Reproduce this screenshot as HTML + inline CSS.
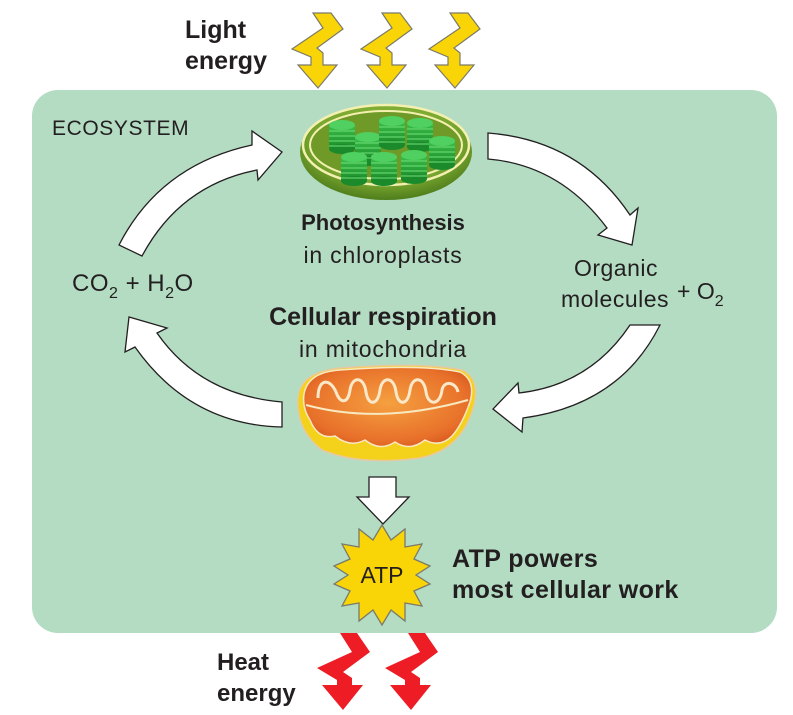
<!DOCTYPE html>
<html><head><meta charset="utf-8"><style>
html,body{margin:0;padding:0;background:#fff;}
body{width:793px;height:715px;overflow:hidden;}
svg{display:block;}
text{font-family:"Liberation Sans",sans-serif;fill:#231f20;}
</style></head><body>
<svg width="793" height="715" viewBox="0 0 793 715" xmlns="http://www.w3.org/2000/svg">
<defs>
<radialGradient id="chl" cx="50%" cy="40%" r="60%"><stop offset="0" stop-color="#9dc23a"/><stop offset="0.7" stop-color="#7aa830"/><stop offset="1" stop-color="#4f7d1c"/></radialGradient>
<linearGradient id="stk" x1="0" x2="0" y1="0" y2="1"><stop offset="0" stop-color="#3cc04a"/><stop offset="1" stop-color="#1b8a2a"/></linearGradient>
<radialGradient id="mito" cx="50%" cy="45%" r="60%"><stop offset="0" stop-color="#f5a040"/><stop offset="0.8" stop-color="#e8702a"/><stop offset="1" stop-color="#d85a20"/></radialGradient>
<g id="stack"><rect x="-13" y="-15" width="26" height="24" fill="url(#stk)"/><ellipse cx="0" cy="9" rx="13" ry="5" fill="#1b8a2a"/><ellipse cx="0" cy="-15" rx="13" ry="5" fill="#4fd060"/><path d="M-13,-9 h26 M-13,-4 h26 M-13,1 h26 M-13,6 h26" stroke="#6fe07a" stroke-width="1"/></g>
</defs>
<rect x="32" y="90" width="745" height="543" rx="26" fill="#b3dcc3"/>

<!-- light bolts -->
<g fill="#f9d406" stroke="#7a7a6a" stroke-width="1.2" stroke-linejoin="miter">
<polygon id="lb" points="313,13 331,13 343,29 317,48 323,53 323,65 337,65 318,88 298,65 311,65 311,57 292,49 323,28"/>
<use href="#lb" x="69"/>
<use href="#lb" x="137"/>
</g>
<!-- heat bolts -->
<g fill="#ee1c25">
<polygon id="hb" points="340,633 357,633 370,652 343,672 352,678 352,685 363,685 343,710 322,685 337,685 337,680 317,668 352,652"/>
<use href="#hb" x="68"/>
</g>

<text x="185" y="38" font-size="25" font-weight="bold">Light</text>
<text x="185" y="69" font-size="25" font-weight="bold">energy</text>
<text x="217" y="670" font-size="24" font-weight="bold">Heat</text>
<text x="217" y="701" font-size="24" font-weight="bold">energy</text>

<text x="52" y="135" font-size="21" letter-spacing="0.6">ECOSYSTEM</text>

<!-- chloroplast -->
<ellipse cx="386" cy="152" rx="86" ry="48" fill="url(#chl)"/>
<ellipse cx="386" cy="145" rx="83" ry="40" fill="none" stroke="#f4f0b0" stroke-width="2.5"/>
<ellipse cx="386" cy="145" rx="76" ry="34" fill="#6f9a28" stroke="#f4f0b0" stroke-width="2"/>
<use href="#stack" x="342" y="140"/>
<use href="#stack" x="368" y="152"/>
<use href="#stack" x="392" y="136"/>
<use href="#stack" x="420" y="138"/>
<use href="#stack" x="442" y="156"/>
<use href="#stack" x="354" y="172"/>
<use href="#stack" x="384" y="172"/>
<use href="#stack" x="414" y="170"/>

<text x="383" y="230" font-size="22" font-weight="bold" text-anchor="middle">Photosynthesis</text>
<text x="383" y="263" font-size="23" letter-spacing="0.8" text-anchor="middle">in chloroplasts</text>
<text x="383" y="325" font-size="25" font-weight="bold" text-anchor="middle">Cellular respiration</text>
<text x="383" y="357" font-size="23" letter-spacing="0.8" text-anchor="middle">in mitochondria</text>

<text x="72" y="291" font-size="24" letter-spacing="0.5">CO<tspan font-size="16" dy="7">2</tspan><tspan dy="-7"> + H</tspan><tspan font-size="16" dy="7">2</tspan><tspan dy="-7">O</tspan></text>
<text x="616" y="276" font-size="23" letter-spacing="0.5" text-anchor="middle">Organic</text>
<text x="615" y="307" font-size="23" letter-spacing="0.5" text-anchor="middle">molecules</text>
<text x="677" y="299" font-size="23">+ O<tspan font-size="16" dy="7">2</tspan></text>

<!-- curved arrows -->
<g fill="#fff" stroke="#231f20" stroke-width="1.3" stroke-linejoin="miter">
<path d="M119,245 Q160,165 252,145 L252,131 L282,152 L258,180 L257,170 Q180,185 142,256 Z"/>
<path d="M488,133 Q580,140 630,215 L638,208 L632,245 L598,235 L607,228 Q560,165 488,159 Z"/>
<path d="M630,325 Q590,385 519,393 L518,383 L493,409 L522,432 L523,418 Q620,405 660,325 Z"/>
<path d="M282,402 Q200,395 157,333 L167,328 L129,317 L125,352 L135,347 Q190,425 282,427 Z"/>
</g>

<!-- mitochondrion -->
<path d="M298,398 Q300,372 340,368 Q420,362 462,370 Q480,378 474,405 Q462,450 420,458 Q360,466 322,450 Q296,430 298,398 Z" fill="#f4d21c" stroke="#e8c8a0" stroke-width="1.5"/>
<path d="M304,394 Q308,372 340,370 Q420,364 460,372 Q476,380 470,402 Q462,425 452,436 Q440,448 425,440 Q410,452 395,442 Q380,452 365,440 Q350,448 335,436 Q318,440 310,420 Q302,408 304,394 Z" fill="url(#mito)" stroke="#f8e8c0" stroke-width="1.5"/>
<path d="M318,398 C318,378 330,378 336,392 C340,404 348,404 350,390 C352,376 364,376 366,392 C368,406 378,406 380,390 C382,376 394,376 396,392 C398,406 408,406 410,390 C412,376 424,376 426,392 C428,406 440,406 442,390 C444,380 456,382 458,392" fill="none" stroke="#fbe8c8" stroke-width="3"/>
<path d="M306,405 Q380,425 468,400" fill="none" stroke="#f8e8c0" stroke-width="2"/>

<!-- down arrow -->
<polygon points="369,477 396,477 396,497 409,497 383,524 357,497 369,497" fill="#fff" stroke="#231f20" stroke-width="1.3"/>

<!-- ATP star -->
<polygon fill="#f9d406" stroke="#7a7a6a" stroke-width="1.3" points="382,525 391,540 405,529 405,547 422,544 414,559 430,566 416,575 430,584 414,591 422,606 405,603 405,621 391,610 382,625 373,610 359,621 359,603 342,606 350,591 334,584 348,575 334,566 350,559 342,544 359,547 359,529 373,540"/>
<text x="382" y="583" font-size="23" text-anchor="middle">ATP</text>
<text x="452" y="567" font-size="25" font-weight="bold" letter-spacing="0.4">ATP powers</text>
<text x="452" y="598" font-size="25" font-weight="bold" letter-spacing="0.4">most cellular work</text>
</svg>
</body></html>
